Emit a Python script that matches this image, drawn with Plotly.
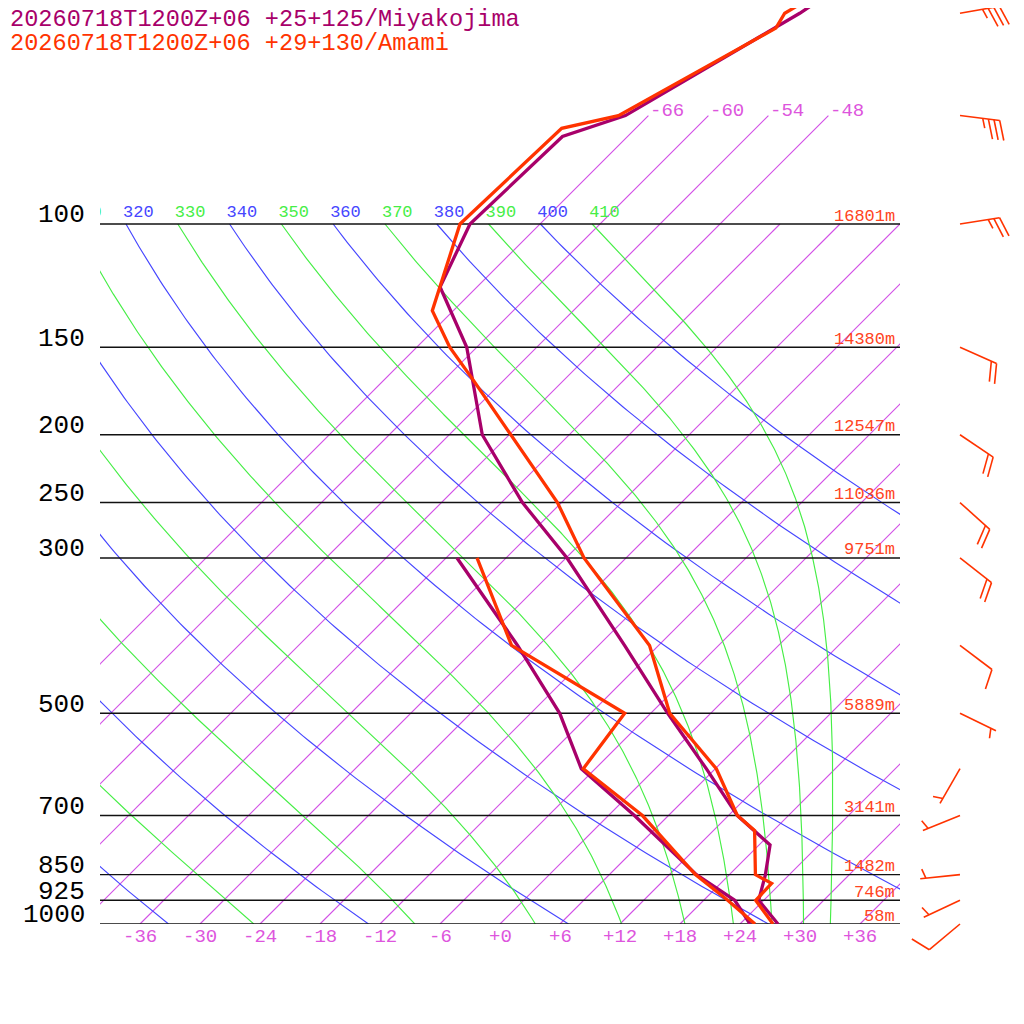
import numpy as np
import plotly.graph_objects as go

# ---------------- data ----------------
title_miy = "20260718T1200Z+06 +25+125/Miyakojima"
title_ami = "20260718T1200Z+06 +29+130/Amami"

# Miyakojima (purple) temperature / dewpoint
p_T_miy = [1000, 925, 850, 771, 700, 600, 500, 400, 300, 250, 200, 150, 123, 100, 75, 70, 50, 45]
T_miy = [27.8, 23.5, 21.6, 19.1, 12.9, 5.1, -4.3, -15.4, -29.9, -39.9, -50.7, -61.0, -69.7, -73.0, -72.5, -68.3, -61.1, -59.5]
p_Td_miy = [1000, 925, 850, 700, 600, 500, 400, 300]
Td_miy = [25.0, 21.1, 14.7, 2.6, -7.4, -15.1, -26.1, -40.9]

# Amami (red) temperature / dewpoint
p_T_ami = [1000, 925, 875, 850, 735, 700, 600, 500, 400, 300, 250, 200, 167, 150, 133, 100, 73, 70, 52.5, 50, 45]
T_ami = [27.3, 23.2, 23.1, 20.6, 16.1, 12.9, 6.1, -4.1, -12.9, -28.2, -36.4, -47.8, -57.1, -62.7, -68.1, -74.0, -73.4, -69.0, -62.0, -62.6, -60.4]
p_Td_ami = [1000, 925, 850, 734, 700, 600, 500, 400, 300]
Td_ami = [25.5, 20.4, 14.6, 6.1, 3.4, -7.2, -8.6, -26.7, -38.9]

# Amami winds
wind_p = [50, 70, 100, 150, 200, 250, 300, 400, 500, 600, 700, 850, 925, 1000]
wind_dir = [80, 97, 81, 114, 124, 132, 128, 127, 116, 210, 248, 264, 245, 230]
wind_kt = [35, 35, 25, 20, 20, 20, 20, 10, 5, 5, 5, 5, 5, 10]

isobar_levels = [1000, 925, 850, 700, 500, 300, 250, 200, 150, 100]
isobar_labels = ["1000", "925", "850", "700", "500", "300", "250", "200", "150", "100"]
height_labels = ["58m", "746m", "1482m", "3141m", "5889m", "9751m", "11036m", "12547m", "14380m", "16801m"]
isotherm_T = list(range(-66, 37, 6))
isotherm_labeled = [-66, -60, -54, -48]
dry_theta = list(range(240, 401, 20))
moist_theta = list(range(250, 411, 20))
adiabat_label_theta = list(range(310, 411, 10))
tick_T = list(range(-36, 37, 6))

# ---------------- styles / geometry ----------------
C_MIY = "#a8006a"
C_AMI = "#ff3300"
C_ISO = "rgb(210,80,230)"
C_ISO_TXT = "#dd55dd"
C_DRY = "rgb(70,70,255)"
C_MOIST = "rgb(70,238,70)"
FONT = "Liberation Mono"
SKEW = 70.0          # deg C of skew per pressure decade
KAPPA = 0.2857
OFF = 8              # page offset of the figure inside the window
W = 1024
BOX_L, BOX_R, Y1000, Y100 = 100, 900, 924, 224
PX_DEC = (Y1000 - Y100)          # pixels per pressure decade
PX_DEG = (BOX_R - BOX_L) / 80.0  # pixels per degree

top_log = 2 - (Y100 - OFF) / PX_DEC

def sx(T, p):
    return np.asarray(T, float) + SKEW * np.log10(1000.0 / np.asarray(p, float))

Rd, Cp, Lv, EPS = 287.04, 1005.7, 2.501e6, 0.622

def dTdlnp(T, p):
    es = 6.112 * np.exp(17.67 * (T - 273.15) / (T - 29.65))
    r = EPS * es / (p - es)
    return (Rd * T + Lv * r) / (Cp + Lv * Lv * r * EPS / (Rd * T * T))

def moist_adiabat(theta):
    lnp = np.linspace(np.log(100.0), np.log(1000.0), 400)
    T = np.empty_like(lnp)
    T[0] = theta * 0.1 ** KAPPA
    for i in range(len(lnp) - 1):
        h = lnp[i + 1] - lnp[i]
        p0, pm, p1 = np.exp(lnp[i]), np.exp(lnp[i] + h / 2), np.exp(lnp[i + 1])
        k1 = dTdlnp(T[i], p0)
        k2 = dTdlnp(T[i] + h / 2 * k1, pm)
        k3 = dTdlnp(T[i] + h / 2 * k2, pm)
        k4 = dTdlnp(T[i] + h * k3, p1)
        T[i + 1] = T[i] + h / 6 * (k1 + 2 * k2 + 2 * k3 + k4)
    return np.exp(lnp), T - 273.15

fig = go.Figure()

# isotherms
for t in isotherm_T:
    pe = 70 if t in isotherm_labeled else 100
    fig.add_trace(go.Scatter(x=[float(sx(t, 1000)), float(sx(t, pe))], y=[1000, pe],
                             mode="lines", line=dict(color=C_ISO, width=1.15), hoverinfo="skip"))

# dry adiabats
pp = np.logspace(3, 2, 150)
for th in dry_theta:
    T = th * (pp / 1000.0) ** KAPPA - 273.15
    fig.add_trace(go.Scatter(x=sx(T, pp), y=pp, mode="lines",
                             line=dict(color=C_DRY, width=1.15), hoverinfo="skip"))

# moist adiabats
for th in moist_theta:
    pm_, Tm = moist_adiabat(th)
    fig.add_trace(go.Scatter(x=sx(Tm, pm_), y=pm_, mode="lines",
                             line=dict(color=C_MOIST, width=1.15), hoverinfo="skip"))

# adiabat labels at 100 hPa (clipped to plot area)
lab_x = [float(sx(th * 0.1 ** KAPPA - 273.15, 100)) - 0.3 for th in adiabat_label_theta]
lab_c = [C_DRY if th % 20 == 0 else C_MOIST for th in adiabat_label_theta]
fig.add_trace(go.Scatter(
    x=lab_x, y=[10 ** (2 - 11.5 / PX_DEC)] * len(lab_x), mode="text",
    text=[str(t) for t in adiabat_label_theta], textposition="middle right",
    textfont=dict(family=FONT, size=17, color=lab_c), marker=dict(size=1),
    cliponaxis=True, hoverinfo="skip"))

# isobars
for p in isobar_levels:
    fig.add_trace(go.Scatter(x=[-40, 40], y=[p, p], mode="lines",
                             line=dict(color="#111111", width=1.4), hoverinfo="skip"))

# soundings
for pT, TT, col in [(p_Td_miy, Td_miy, C_MIY), (p_T_miy, T_miy, C_MIY),
                    (p_Td_ami, Td_ami, C_AMI), (p_T_ami, T_ami, C_AMI)]:
    fig.add_trace(go.Scatter(x=sx(TT, pT), y=pT, mode="lines",
                             line=dict(color=col, width=3.3), hoverinfo="skip"))

# wind barbs (full-figure overlay axes)
SHAFT, SPACING, FULL, HALF, ANG = 40.0, 5.7, 20.5, 10.0, np.radians(71.5)
STATION_X = (960 - BOX_L) / PX_DEG - 40
wx, wy = [], []
for p, d, s in zip(wind_p, wind_dir, wind_kt):
    th = np.radians(d)
    u = np.array([np.sin(th), -np.cos(th)])
    n = np.array([-u[1], u[0]])
    f = np.cos(ANG) * u + np.sin(ANG) * n

    def seg(a, b):
        for v in (a, b):
            wx.append(STATION_X + v[0] / PX_DEG)
            wy.append(10 ** (np.log10(p) + v[1] / PX_DEC))
        wx.append(None)
        wy.append(None)

    tip = SHAFT * u
    seg(np.zeros(2), tip)
    n10, n5 = s // 10, (s % 10) // 5
    pos = 0
    for _ in range(n10):
        base = tip - pos * SPACING * u
        seg(base, base + FULL * f)
        pos += 1
    if n5:
        if pos == 0:
            pos = 1
        base = tip - pos * SPACING * u
        seg(base, base + HALF * f)
fig.add_trace(go.Scatter(x=wx, y=wy, xaxis="x2", yaxis="y2", mode="lines",
                         line=dict(color=C_AMI, width=1.6), hoverinfo="skip"))

ann = []
x2_of = lambda px: (px - BOX_L) / PX_DEG - 40
# pressure labels
for p, lab in zip(isobar_levels, isobar_labels):
    ann.append(dict(x=x2_of(87), y=np.log10(p), xref="x2", yref="y2", text=lab, showarrow=False,
                    xanchor="right", yanchor="middle", yshift=8.7,
                    font=dict(family=FONT, size=26, color="#000000")))
# heights
for p, lab in zip(isobar_levels, height_labels):
    ann.append(dict(x=39.7, y=np.log10(p), xref="x", yref="y", text=lab, showarrow=False,
                    xanchor="right", yanchor="middle", yshift=8,
                    font=dict(family=FONT, size=17, color="#ff4422")))
# isotherm labels
for t in isotherm_labeled:
    ann.append(dict(x=float(sx(t, 70)), y=np.log10(70), xref="x", yref="y", text=str(t),
                    showarrow=False, xanchor="left", yanchor="middle", yshift=4.7,
                    font=dict(family=FONT, size=19, color=C_ISO_TXT)))
# bottom temperature ticks
for t in tick_T:
    ann.append(dict(x=t, y=3, xref="x", yref="y", text=f"{t:+d}", showarrow=False,
                    xanchor="center", yanchor="middle", yshift=-12.5,
                    font=dict(family=FONT, size=19, color=C_ISO_TXT)))
# titles
for i, (txt, col) in enumerate([(title_miy, C_MIY), (title_ami, C_AMI)]):
    ann.append(dict(x=0, y=1 - (19 + 24 * i - OFF) / W, xref="paper", yref="paper",
                    text=txt, showarrow=False, xanchor="left", yanchor="middle",
                    font=dict(family=FONT, size=23.6, color=col)))

fig.update_layout(
    width=W, height=W, margin=dict(l=0, r=0, t=0, b=0),
    paper_bgcolor="white", plot_bgcolor="rgba(0,0,0,0)", showlegend=False,
    font=dict(family=FONT),
    xaxis=dict(domain=[(BOX_L - OFF) / W, (BOX_R - OFF) / W], range=[-40, 40],
               visible=False, anchor="y"),
    yaxis=dict(domain=[(W - (Y1000 - OFF)) / W, 1], type="log", range=[3, top_log],
               visible=False, anchor="x"),
    xaxis2=dict(domain=[0, 1], range=[x2_of(OFF), x2_of(OFF + W)], visible=False, anchor="y2"),
    yaxis2=dict(domain=[0, 1], type="log",
                range=[3 + (OFF + W - Y1000) / PX_DEC, top_log], visible=False, anchor="x2"),
    annotations=ann,
)
fig.write_html("out.html")
